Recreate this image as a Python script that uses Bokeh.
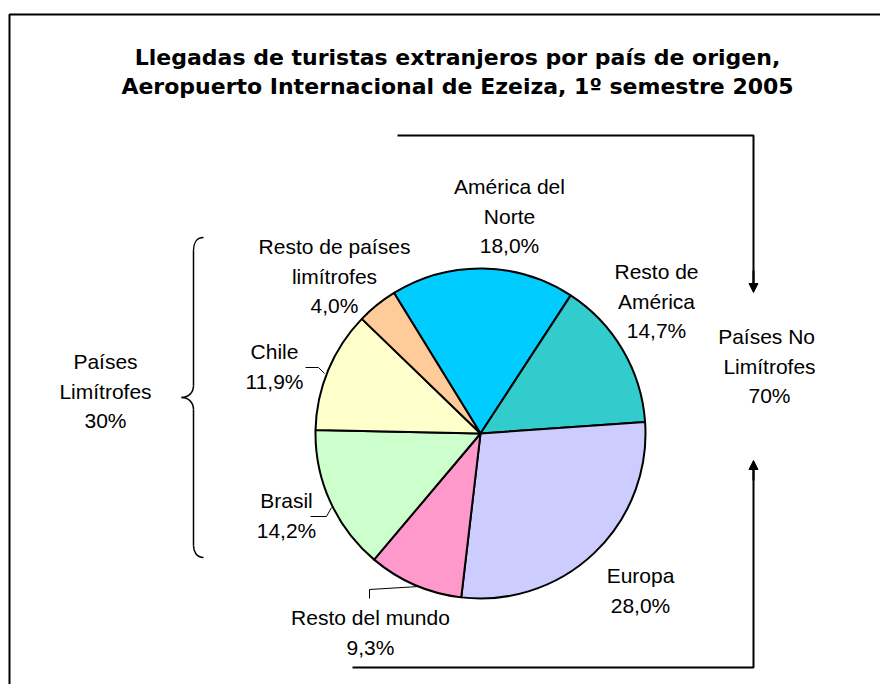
import math
from bokeh.plotting import figure
from bokeh.models import Range1d, Arrow, NormalHead, ColumnDataSource
from bokeh.core.properties import value
from bokeh.embed import file_html
from bokeh.resources import INLINE

# ---------------- data ----------------
categories = ["América del Norte", "Resto de América", "Europa", "Resto del mundo",
              "Brasil", "Chile", "Resto de países limítrofes"]
shares = [18.0, 14.7, 28.0, 9.3, 14.2, 11.9, 4.0]
name_lines = [["América del", "Norte"], ["Resto de", "América"], ["Europa"],
              ["Resto del mundo"], ["Brasil"], ["Chile"], ["Resto de países", "limítrofes"]]
bordering = [False, False, False, False, True, True, True]
group_names = [["Países", "Limítrofes"], ["Países  No", "Limítrofes"]]
title_lines = ["Llegadas de turistas extranjeros por país de origen,",
               "Aeropuerto Internacional de Ezeiza, 1º semestre 2005"]

# ---------------- styles / layout ----------------
colors = ["#00CCFF", "#33CCCC", "#CCCCFF", "#FF99CC", "#CCFFCC", "#FFFFCC", "#FFCC99"]
W, H = 880, 684
def Y(s):  # screen y -> data y
    return 690 - s

CX, CY, R = 480, 433, 165
START_CW = -31.6  # degrees clockwise from 12 o'clock where first slice starts
FONT = "Liberation Sans"
LSTEP = 29.5
label_pos = [(509, 186), (656, 271), (640, 575), (370, 617), (286, 500), (274, 351), (334, 246)]
group_pos = [(105, 361), (769, 336)]

p = figure(width=W, height=H, x_range=Range1d(0, W), y_range=Range1d(690 - H, 690),
           output_backend="svg", toolbar_location=None, min_border=0)
p.axis.visible = False
p.grid.visible = False
p.outline_line_color = None
p.background_fill_color = "white"
p.border_fill_color = "white"

# ---------------- pie ----------------
total = sum(shares)
starts, ends = [], []
acc = START_CW
for v in shares:
    a0 = acc
    a1 = acc + v / total * 360.0
    acc = a1
    # convert clockwise-from-top to math angles (anticlockwise from +x)
    starts.append(math.radians(90 - a1))
    ends.append(math.radians(90 - a0))
src = ColumnDataSource(dict(cat=categories, val=shares, color=colors, s=starts, e=ends))
p.wedge(x=CX, y=Y(CY), radius=R, start_angle="s", end_angle="e", fill_color="color",
        line_color="black", line_width=2, source=src)

# ---------------- labels ----------------
def fmt(v):
    return f"{v:.1f}".replace(".", ",") + "%"

tx, ty, tt = [], [], []
for (x0, y0), lines, v in zip(label_pos, name_lines, shares):
    all_lines = lines + [fmt(v)]
    for i, t in enumerate(all_lines):
        tx.append(x0); ty.append(Y(y0 + i * LSTEP)); tt.append(t)

near = round(sum(v for v, b in zip(shares, bordering) if b))
far = round(sum(v for v, b in zip(shares, bordering) if not b))
for (x0, y0), lines, v in zip(group_pos, group_names, [near, far]):
    for i, t in enumerate(lines + [f"{v}%"]):
        tx.append(x0); ty.append(Y(y0 + i * LSTEP)); tt.append(t)

p.text(x=tx, y=ty, text=tt, text_font=value(FONT), text_font_size="21px",
       text_align="center", text_baseline="middle", text_color="black")

# title
p.text(x=[457, 457], y=[Y(57), Y(86)], text=title_lines, text_font=value("DejaVu Sans"),
       text_font_style="bold", text_font_size="22px", text_align="center",
       text_baseline="alphabetic", text_color="black")

# ---------------- leader lines ----------------
leaders = [
    ([305, 318, 324], [367, 367, 373]),   # Chile
    ([310, 326, 331], [516, 516, 507]),   # Brasil
    ([369, 369, 418], [598, 589, 586]),   # Resto del mundo
]
for xs, ys in leaders:
    p.line(xs, [Y(v) for v in ys], line_color="black", line_width=1)

# ---------------- bracket ----------------
bx = 193
p.bezier(x0=[203, 193, 181, 193], y0=[Y(237), Y(385), Y(397), Y(545)],
         x1=[193, 181, 193, 203], y1=[Y(250), Y(397), Y(409), Y(557)],
         cx0=[196, 193, 188, 193], cy0=[Y(237), Y(392), Y(397), Y(551)],
         cx1=[193, 188, 193, 196], cy1=[Y(243), Y(397), Y(402), Y(557)],
         line_color="black", line_width=1.5)
p.segment(x0=[bx, bx], y0=[Y(250), Y(409)], x1=[bx, bx], y1=[Y(385), Y(545)],
          line_color="black", line_width=1.5)

# ---------------- arrows (non-bordering group) ----------------
p.line([397, 753, 753], [Y(135), Y(135), Y(285)], line_color="black", line_width=2)
p.line([352, 753, 753], [Y(667), Y(667), Y(467)], line_color="black", line_width=2)
p.add_layout(Arrow(end=NormalHead(size=9, fill_color="black", line_color="black"),
                   x_start=753, y_start=Y(270), x_end=753, y_end=Y(292),
                   line_color="black", line_width=2))
p.add_layout(Arrow(end=NormalHead(size=9, fill_color="black", line_color="black"),
                   x_start=753, y_start=Y(480), x_end=753, y_end=Y(460),
                   line_color="black", line_width=2))

# ---------------- frame ----------------
p.line([9, 9, W], [Y(690), Y(14), Y(14)], line_color="black", line_width=2)

open("out.html", "w").write(file_html(p, INLINE))
